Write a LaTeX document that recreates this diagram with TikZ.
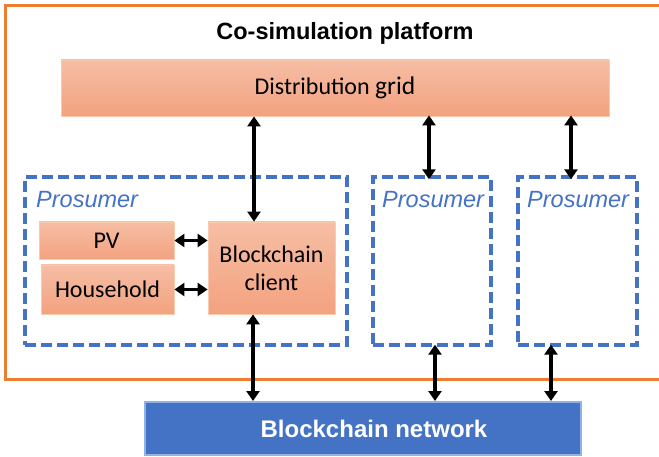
\documentclass[tikz,border=0pt]{standalone}
\usepackage{fontspec}
\setmainfont{Liberation Sans}
\newfontfamily\calib{Carlito}
\usetikzlibrary{arrows.meta}
\definecolor{frameor}{HTML}{ED7D31}
\definecolor{ortop}{HTML}{F6BEA5}
\definecolor{orbot}{HTML}{F3A27F}
\definecolor{orbd}{HTML}{F8CBAD}
\definecolor{pblue}{HTML}{4472C4}
\definecolor{nbd}{HTML}{8FB4E3}
\begin{document}
\begin{tikzpicture}[x=1pt,y=-1pt,
  obox/.style={draw=orbd, line width=0.8pt, top color=ortop, bottom color=orbot, inner sep=0pt, font=\calib\fontsize{24}{28}\selectfont, text=black},
  pbox/.style={draw=pblue, line width=3.4pt, dash pattern=on 11pt off 5pt, inner sep=0pt},
  plabel/.style={anchor=base west, inner sep=0pt, text=pblue, font=\fontsize{23.5}{28}\selectfont\itshape},
  arr/.style={line width=3.4pt, {Triangle[length=10pt,width=13pt]}-{Triangle[length=10pt,width=13pt]}}
]
\useasboundingbox (0,0) rectangle (659,457);
% outer frame
\draw[frameor, line width=3pt] (5,6) rectangle (680,379);
\node[inner sep=0pt, font=\bfseries\fontsize{23.5}{28}\selectfont] (title) at (345,33) {Co-simulation platform};
% distribution grid
\node[obox, minimum width=548pt, minimum height=56pt] (grid) at (335,88)
  {Distribution {\fontsize{25.5}{28}\selectfont grid}};
% prosumer boxes
\node[pbox, minimum width=322pt, minimum height=168pt] (p1) at (186,261) {};
\node[pbox, minimum width=118pt, minimum height=168pt] (p2) at (432,261) {};
\node[pbox, minimum width=119pt, minimum height=168pt] (p3) at (577.5,261) {};
\node[plabel] (l1) at (36,208) {Prosumer};
\node[plabel] (l2) at (382,208) {Prosumer};
\node[plabel] (l3) at (527,208) {Prosumer};
% inner boxes
\node[obox, minimum width=135pt, minimum height=37pt] (pv) at (106.5,240.5) {PV};
\node[obox, minimum width=133pt, minimum height=49pt] (hh) at (107.5,289.5) {Household};
\node[obox, minimum width=127pt, minimum height=92pt, align=center] (bc) at (271.5,268) {Blockchain\\client};
% blockchain network
\node[draw=nbd, line width=2pt, fill=pblue, minimum width=436pt, minimum height=53pt, inner sep=0pt,
  text=white, font=\bfseries\fontsize{24}{28}\selectfont] (net) at (363,428.5) {\hspace*{22pt}Blockchain network};
% arrow columns
\coordinate (a1) at (254,0);
\coordinate (a2) at (429,0);
\coordinate (a3) at (571,0);
\coordinate (b1) at (253,0);
\coordinate (b2) at (435,0);
\coordinate (b3) at (551,0);
\draw[arr] (a1 |- grid.south) -- (a1 |- bc.north);
\draw[arr] ([yshift=1pt]a2 |- grid.south) -- ([yshift=-4pt]a2 |- p2.north);
\draw[arr] ([yshift=1pt]a3 |- grid.south) -- ([yshift=-4pt]a3 |- p3.north);
\draw[arr] (b1 |- bc.south) -- (b1 |- net.north);
\draw[arr] ([yshift=2pt]b2 |- p2.south) -- (b2 |- net.north);
\draw[arr] ([yshift=2pt]b3 |- p3.south) -- (b3 |- net.north);
\draw[arr] (pv.east) -- (pv.east -| bc.west);
\draw[arr] (hh.east) -- (hh.east -| bc.west);
\end{tikzpicture}
\end{document}
